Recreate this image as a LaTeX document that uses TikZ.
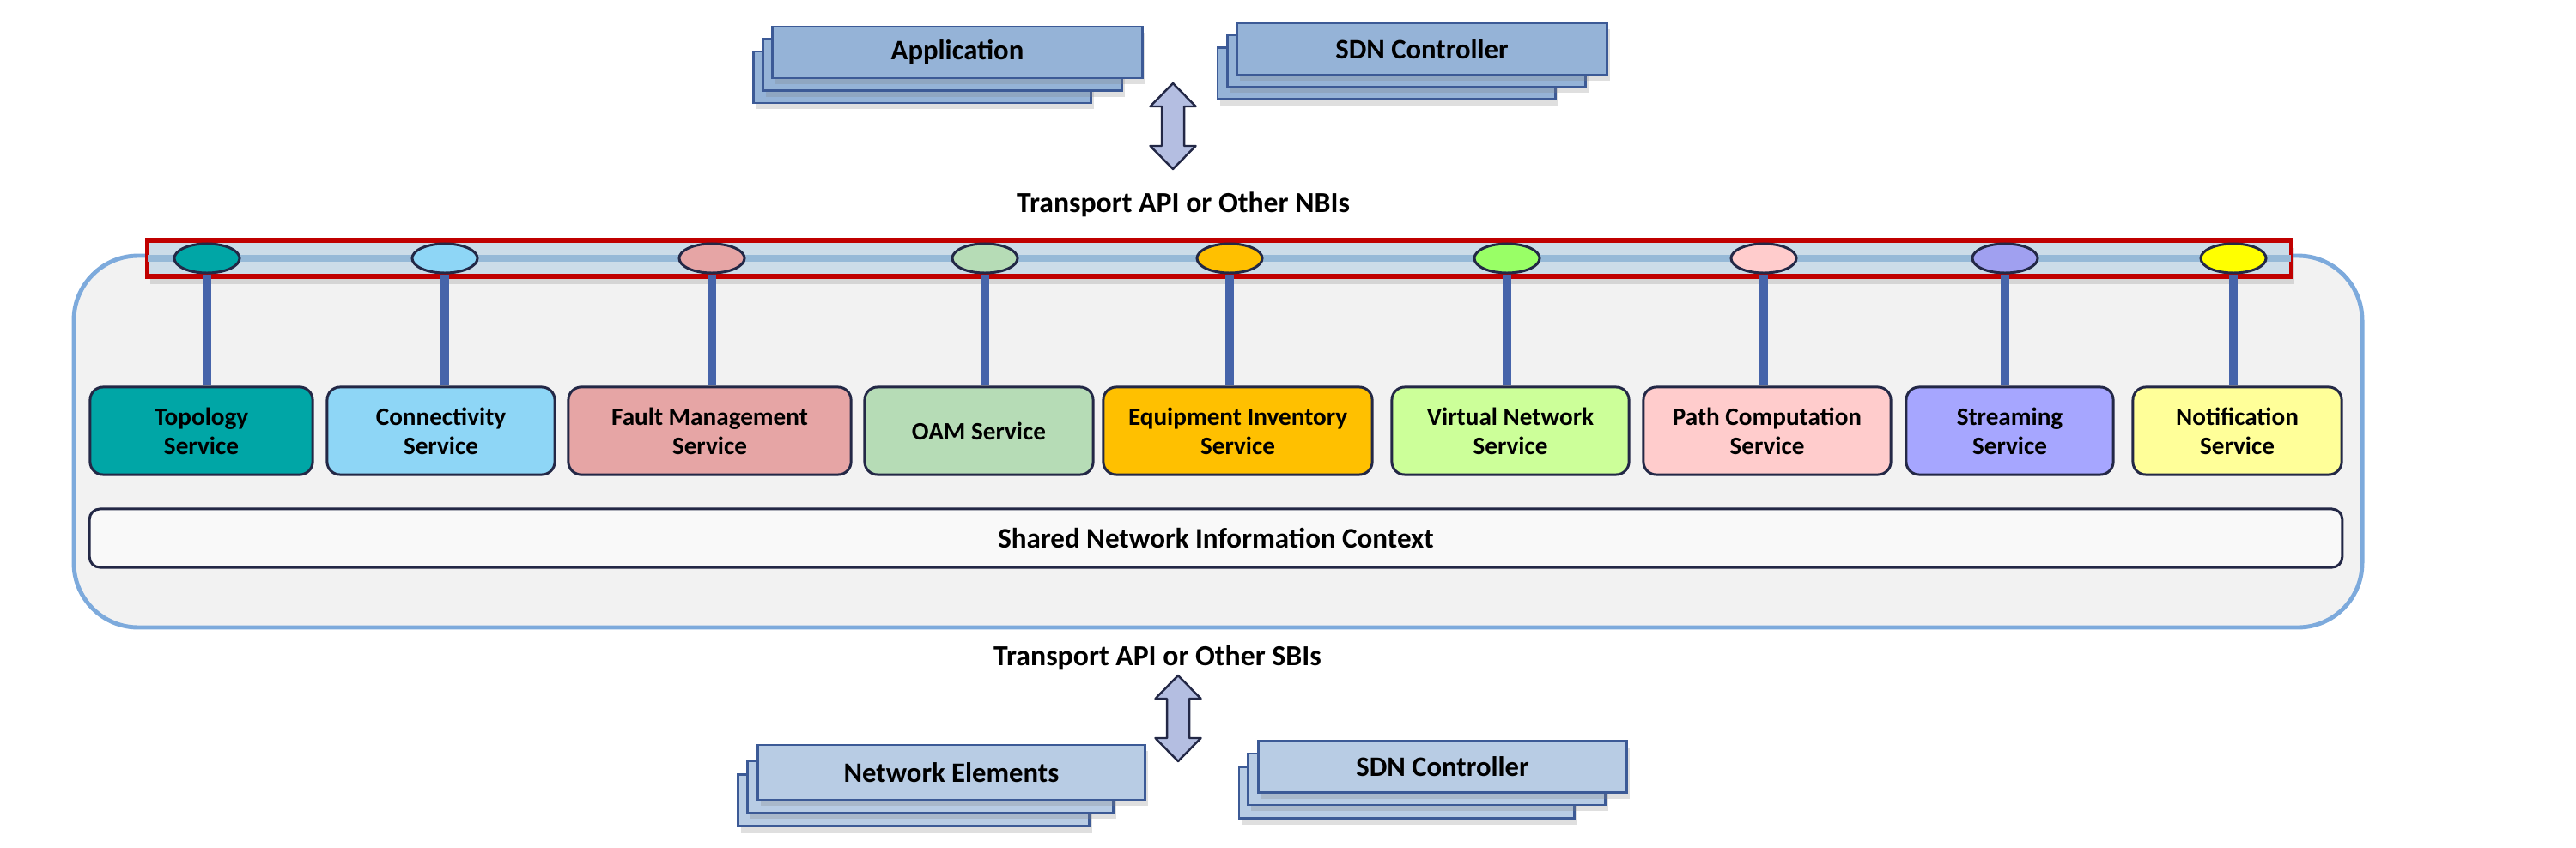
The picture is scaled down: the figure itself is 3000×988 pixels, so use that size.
\documentclass[tikz,border=0pt]{standalone}
\usepackage{fontspec}
\setmainfont{Carlito}
\usetikzlibrary{shapes.geometric, shadows}

\definecolor{topboxc}{RGB}{149,179,215}
\definecolor{botboxc}{RGB}{184,204,228}
\definecolor{boxline}{RGB}{60,90,150}
\definecolor{darkline}{RGB}{35,40,70}
\definecolor{frameblue}{RGB}{125,170,220}
\definecolor{barfill}{RGB}{204,220,232}
\definecolor{barline}{RGB}{150,185,215}
\definecolor{barred}{RGB}{192,0,0}
\definecolor{stemc}{RGB}{70,100,170}
\definecolor{arrowc}{RGB}{180,190,225}
\definecolor{topoc}{RGB}{0,166,166}
\definecolor{connc}{RGB}{142,214,246}
\definecolor{faultc}{RGB}{230,165,165}
\definecolor{oamc}{RGB}{182,220,182}
\definecolor{equipc}{RGB}{255,192,0}
\definecolor{vnetc}{RGB}{204,255,153}
\definecolor{vnetdotc}{RGB}{153,255,102}
\definecolor{pathc}{RGB}{255,204,204}
\definecolor{streamc}{RGB}{166,166,255}
\definecolor{streamdotc}{RGB}{160,160,240}
\definecolor{notifc}{RGB}{255,255,153}
\definecolor{notifdotc}{RGB}{255,255,0}

\begin{document}
\begin{tikzpicture}[x=0.01cm, y=-0.01cm,
    font=\fontsize{8.3}{9.7}\selectfont\bfseries,
    stackbox/.style={draw=boxline, line width=0.8pt, minimum height=0.6cm, inner sep=0pt,
      font=\fontsize{9.3}{11}\selectfont\bfseries,
      drop shadow={opacity=0.25, shadow xshift=1pt, shadow yshift=-2pt}},
    service/.style={draw=darkline, line width=0.85pt, rounded corners=0.15cm,
      minimum height=1.02cm, align=center, inner sep=0pt},
    port/.style={draw=darkline, line width=0.85pt, ellipse, minimum width=0.76cm,
      minimum height=0.34cm, inner sep=0pt},
    stem/.style={stemc, line width=2.6pt},
    apilabel/.style={anchor=base, font=\fontsize{9.6}{11}\selectfont\bfseries},
    iface/.style={fill=arrowc, draw=darkline, line width=0.7pt, line join=round}]
    \useasboundingbox (0,0) rectangle (3000,988);

    % clients on top
    \node[stackbox, fill=topboxc, minimum width=3.92cm] (app3) at (1074,90) {};
    \node[stackbox, fill=topboxc, minimum width=4.17cm] (app2) at (1097.5,75.5) {};
    \node[stackbox, fill=topboxc, minimum width=4.30cm] (app1) at (1115,61) {Application};
    \node[stackbox, fill=topboxc, minimum width=3.93cm] (ctl3) at (1614.5,85.5) {};
    \node[stackbox, fill=topboxc, minimum width=4.16cm] (ctl2) at (1638,71) {};
    \node[stackbox, fill=topboxc, minimum width=4.30cm] (ctl1) at (1656,57) {SDN Controller};

    \draw[iface, shift={(1366,97)}] (0,0) -- (26.5,27) -- (13,27) -- (13,73) -- (26.5,73) -- (0,100)
      -- (-26.5,73) -- (-13,73) -- (-13,27) -- (-26.5,27) -- cycle;
    \node[apilabel] (nbi) at (1378,248) {Transport API or Other NBIs};

    % the controller frame
    \draw[frameblue, line width=1.4pt, fill=gray!10, rounded corners=0.75cm] (86,298) rectangle (2751,731);

    \node[draw=barred, line width=1.5pt, fill=barfill, minimum width=24.96cm, minimum height=0.42cm,
      inner sep=0pt, drop shadow={opacity=0.25, shadow xshift=1pt, shadow yshift=-2.5pt}] (bus) at (1420,301) {};
    \draw[barline, line width=2.3pt, shorten <=1pt, shorten >=1pt] (bus.west) -- (bus.east);

    \node[service, fill=topoc, minimum width=2.59cm] (s1) at (234.5,502) {Topology\\Service};
    \node[service, fill=connc, minimum width=2.65cm] (s2) at (513.5,502) {Connectivity\\Service};
    \node[service, fill=faultc, minimum width=3.29cm] (s3) at (826.5,502) {Fault Management\\Service};
    \node[service, fill=oamc, minimum width=2.66cm] (s4) at (1140,502) {OAM Service};
    \node[service, fill=equipc, minimum width=3.13cm] (s5) at (1441.5,502) {Equipment Inventory\\Service};
    \node[service, fill=vnetc, minimum width=2.76cm] (s6) at (1759,502) {Virtual Network\\Service};
    \node[service, fill=pathc, minimum width=2.88cm] (s7) at (2058,502) {Path Computation\\Service};
    \node[service, fill=streamc, minimum width=2.41cm] (s8) at (2340.5,502) {Streaming\\Service};
    \node[service, fill=notifc, minimum width=2.43cm] (s9) at (2605.5,502) {Notification\\Service};

    \node[port, fill=topoc] (p1) at (241,301) {};
    \node[port, fill=connc] (p2) at (518,301) {};
    \node[port, fill=faultc] (p3) at (829,301) {};
    \node[port, fill=oamc] (p4) at (1147,301) {};
    \node[port, fill=equipc] (p5) at (1432,301) {};
    \node[port, fill=vnetdotc] (p6) at (1755,301) {};
    \node[port, fill=pathc] (p7) at (2054,301) {};
    \node[port, fill=streamdotc] (p8) at (2335,301) {};
    \node[port, fill=notifdotc] (p9) at (2601,301) {};

    \draw[stem] (p1.south) -- (p1.south |- s1.north);
    \draw[stem] (p2.south) -- (p2.south |- s2.north);
    \draw[stem] (p3.south) -- (p3.south |- s3.north);
    \draw[stem] (p4.south) -- (p4.south |- s4.north);
    \draw[stem] (p5.south) -- (p5.south |- s5.north);
    \draw[stem] (p6.south) -- (p6.south |- s6.north);
    \draw[stem] (p7.south) -- (p7.south |- s7.north);
    \draw[stem] (p8.south) -- (p8.south |- s8.north);
    \draw[stem] (p9.south) -- (p9.south |- s9.north);

    \node[draw=darkline, line width=0.85pt, fill=gray!5, rounded corners=0.12cm, minimum width=26.22cm,
      minimum height=0.68cm, inner sep=0pt, font=\fontsize{9.4}{11}\selectfont\bfseries] (ctx) at (1416,627)
      {Shared Network Information Context};

    % devices below
    \node[apilabel] (sbi) at (1348,775) {Transport API or Other SBIs};
    \draw[iface, shift={(1372,787)}] (0,0) -- (26.5,27) -- (13,27) -- (13,73) -- (26.5,73) -- (0,100)
      -- (-26.5,73) -- (-13,73) -- (-13,27) -- (-26.5,27) -- cycle;

    \node[stackbox, fill=botboxc, minimum width=4.08cm] (ne3) at (1064,932.5) {};
    \node[stackbox, fill=botboxc, minimum width=4.25cm] (ne2) at (1083.5,917) {};
    \node[stackbox, fill=botboxc, minimum width=4.50cm, minimum height=0.64cm] (ne1) at (1108,900) {Network Elements};
    \node[stackbox, fill=botboxc, minimum width=3.90cm] (sc3) at (1638,923.5) {};
    \node[stackbox, fill=botboxc, minimum width=4.15cm] (sc2) at (1661.5,908) {};
    \node[stackbox, fill=botboxc, minimum width=4.28cm] (sc1) at (1680,893.5) {SDN Controller};
  \end{tikzpicture}
\end{document}
